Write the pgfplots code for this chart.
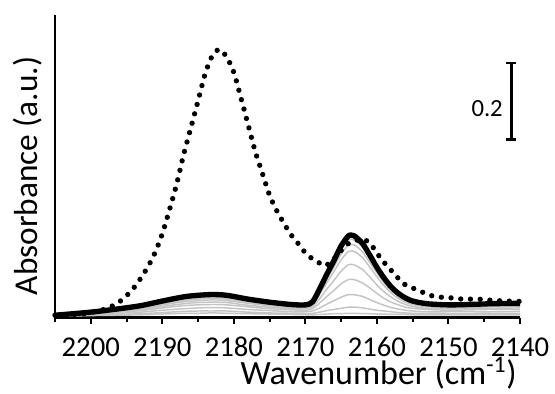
\documentclass[border=0pt]{standalone}
\usepackage{pgfplots}
\pgfplotsset{compat=1.18}
\usepackage{pgfplotstable}
\usepackage{fontspec}
\setmainfont{Carlito}
\definecolor{lg}{RGB}{196,196,196}

\pgfplotstableread{
x c1 c2 c3 c4 c5 c6 c7 c8 bk
2205 0.000 0.001 0.001 0.002 0.002 0.002 0.003 0.003 0.003
2200 0.002 0.003 0.004 0.006 0.007 0.008 0.009 0.010 0.011
2196 0.003 0.005 0.008 0.011 0.013 0.015 0.016 0.018 0.020
2193 0.004 0.007 0.011 0.015 0.018 0.021 0.023 0.025 0.028
2190 0.006 0.010 0.016 0.022 0.026 0.030 0.033 0.035 0.040
2187 0.008 0.013 0.020 0.028 0.033 0.038 0.042 0.045 0.051
2185 0.008 0.014 0.022 0.030 0.036 0.041 0.045 0.048 0.055
2183 0.009 0.014 0.023 0.031 0.037 0.043 0.047 0.050 0.057
2181 0.008 0.014 0.022 0.030 0.036 0.041 0.045 0.048 0.055
2178 0.007 0.011 0.018 0.025 0.029 0.034 0.037 0.040 0.045
2175 0.006 0.009 0.015 0.020 0.024 0.028 0.030 0.033 0.037
2172 0.005 0.008 0.012 0.017 0.020 0.023 0.025 0.027 0.031
2170 0.004 0.007 0.012 0.016 0.020 0.023 0.025 0.027 0.030
2169 0.004 0.008 0.014 0.020 0.025 0.029 0.032 0.034 0.038
2168 0.005 0.011 0.022 0.035 0.046 0.057 0.063 0.067 0.072
2167 0.006 0.015 0.032 0.052 0.071 0.088 0.097 0.103 0.110
2166 0.007 0.018 0.041 0.068 0.094 0.117 0.129 0.138 0.146
2165 0.007 0.021 0.050 0.085 0.118 0.148 0.163 0.174 0.184
2164 0.008 0.024 0.057 0.096 0.135 0.169 0.186 0.199 0.210
2163.5 0.008 0.024 0.057 0.097 0.136 0.171 0.188 0.201 0.212
2163 0.008 0.024 0.056 0.095 0.133 0.168 0.185 0.197 0.208
2162 0.007 0.022 0.052 0.087 0.122 0.153 0.168 0.180 0.190
2161 0.007 0.019 0.044 0.074 0.103 0.129 0.141 0.151 0.160
2160 0.006 0.016 0.036 0.060 0.082 0.103 0.113 0.121 0.128
2159 0.006 0.014 0.029 0.047 0.064 0.080 0.088 0.094 0.100
2158 0.005 0.012 0.023 0.037 0.050 0.061 0.067 0.072 0.077
2157 0.005 0.010 0.019 0.030 0.039 0.047 0.052 0.055 0.060
2156 0.005 0.009 0.016 0.024 0.031 0.037 0.041 0.044 0.048
2155 0.004 0.008 0.014 0.021 0.026 0.031 0.034 0.036 0.040
2153 0.004 0.008 0.012 0.018 0.021 0.025 0.028 0.029 0.033
2150 0.004 0.007 0.012 0.016 0.020 0.023 0.025 0.027 0.030
2147 0.004 0.007 0.012 0.017 0.020 0.023 0.026 0.028 0.031
2144 0.004 0.008 0.012 0.018 0.021 0.025 0.028 0.029 0.033
2140 0.004 0.008 0.013 0.018 0.022 0.026 0.028 0.030 0.034
}\spec

\pgfplotstableread{
x y
2205 0.003
2202 0.005
2200 0.010
2198 0.019
2197 0.027
2196 0.038
2195 0.054
2194 0.074
2193 0.100
2192 0.130
2191 0.167
2190 0.216
2189 0.278
2188 0.345
2187 0.424
2186 0.493
2185 0.563
2184 0.634
2183 0.681
2182 0.697
2181 0.677
2180 0.637
2179 0.570
2178 0.500
2177 0.430
2176 0.373
2175 0.316
2174 0.276
2173 0.243
2172 0.213
2171 0.190
2170 0.166
2169 0.150
2168 0.139
2167.4 0.132
2166.5 0.140
2166 0.150
2165 0.172
2164 0.190
2163 0.198
2162 0.201
2161 0.192
2160 0.165
2159 0.141
2158 0.120
2157 0.099
2156 0.082
2155 0.074
2154 0.066
2152 0.052
2150 0.049
2148 0.045
2146 0.045
2144 0.042
2142 0.040
2140 0.039
}\dotted

\begin{document}
\begin{tikzpicture}
\path[use as bounding box] (0,0) rectangle (416.25pt,294.75pt);
\begin{axis}[
  at={(41.25pt,56.625pt)}, anchor=south west,
  scale only axis, width=348.75pt, height=226.875pt,
  x dir=reverse, xmin=2140, xmax=2205, ymin=-0.003, ymax=0.787,
  axis x line=bottom, axis y line=left,
  axis line style={line width=2pt, -},
  ytick=\empty,
  xtick={2200,2190,2180,2170,2160,2150,2140},
  xticklabels={2200,2190,2180,2170,2160,2150,2140},
  minor xtick={2205,2195,2185,2175,2165,2155,2145},
  tick align=outside, major tick length=4.5pt, minor tick length=3.5pt,
  every tick/.style={black, line width=1.5pt},
  xticklabel style={anchor=base, yshift=-24.9pt, inner sep=0pt, font=\fontsize{21.5}{26}\selectfont},
  xlabel={Wavenumber (cm\textsuperscript{-1})},
  xlabel style={at={(axis description cs:0.696,-0.2222)}, anchor=base, inner sep=0pt, font=\fontsize{25.5}{30}\selectfont},
  ylabel={Absorbance (a.u.)},
  ylabel style={at={(axis description cs:-0.0591,0.468)}, anchor=center, inner sep=0pt, font=\fontsize{25}{30}\selectfont},
  clip=false,
]
\addplot[lg, line width=1.1pt, smooth] table[x=x,y=c1]{\spec};
\addplot[lg, line width=1.1pt, smooth] table[x=x,y=c2]{\spec};
\addplot[lg, line width=1.1pt, smooth] table[x=x,y=c3]{\spec};
\addplot[lg, line width=1.1pt, smooth] table[x=x,y=c4]{\spec};
\addplot[lg, line width=1.1pt, smooth] table[x=x,y=c5]{\spec};
\addplot[lg, line width=1.1pt, smooth] table[x=x,y=c6]{\spec};
\addplot[lg, line width=1.1pt, smooth] table[x=x,y=c7]{\spec};
\addplot[lg, line width=1.1pt, smooth] table[x=x,y=c8]{\spec};
\addplot[black, line width=4pt, smooth, line join=round] table[x=x,y=bk]{\spec};
\addplot[black, line width=4pt, line cap=round, dash pattern=on 0pt off 7.3pt, smooth] table[x=x,y=y]{\dotted};
\addplot[black, line width=2.2pt, mark=-, mark size=3.75pt, mark options={solid, line width=2pt}] coordinates {(2141.2,0.462) (2141.2,0.662)};
\node[anchor=east, inner sep=0pt, xshift=-6.3pt, font=\fontsize{18.5}{22}\selectfont] at (axis cs:2141.2,0.543) {0.2};
\end{axis}
\end{tikzpicture}
\end{document}
